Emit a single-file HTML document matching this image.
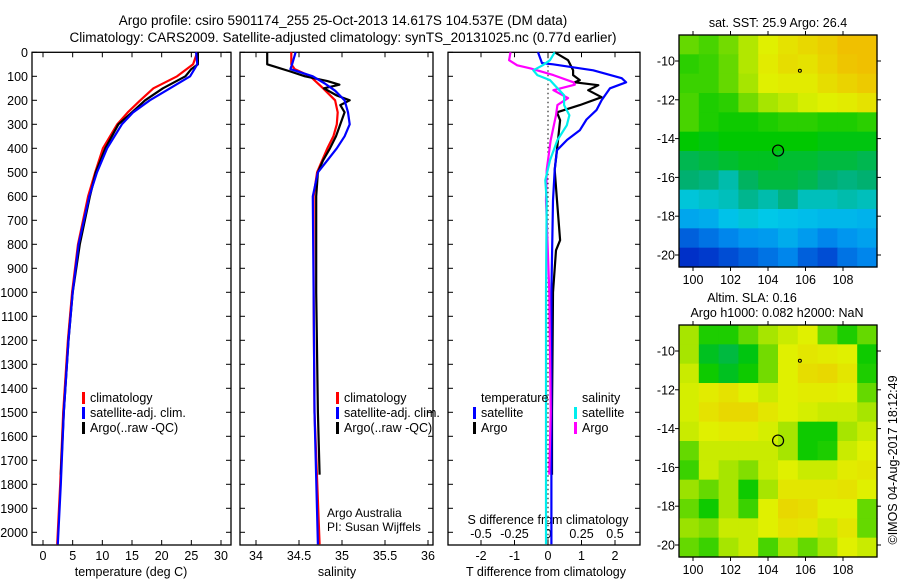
<!DOCTYPE html>
<html><head><meta charset="utf-8"><style>
body{margin:0;background:#fff;}
svg{display:block;font-family:"Liberation Sans",sans-serif;}
text{fill:#000;}
</style></head><body>
<svg id="fig" width="900" height="580" viewBox="0 0 900 580">
<text x="343" y="25" font-size="13.5" text-anchor="middle">Argo profile: csiro 5901174_255 25-Oct-2013 14.617S 104.537E (DM data)</text>
<text x="343" y="42" font-size="13.5" text-anchor="middle">Climatology: CARS2009. Satellite-adjusted climatology: synTS_20131025.nc (0.77d earlier)</text>
<g id="g"></g>
</svg>
<script>
// ---------- data ----------
const depthTicks=[0,100,200,300,400,500,600,700,800,900,1000,1100,1200,1300,1400,1500,1600,1700,1800,1900,2000];
const tTicks=[0,5,10,15,20,25,30];
const sTicks=[34,34.5,35,35.5,36];
const dTTicks=[-2,-1,0,1,2];
const dSTickLabels=["-0.5","-0.25","0","0.25","0.5"];
const dSTicks=[-0.5,-0.25,0,0.25,0.5];

const climDepth=[0,50,100,150,200,250,300,400,500,600,800,1000,1200,1500,1800,2000,2050];
const climTemp=[26.0,25.3,22.6,18.6,16.4,14.3,12.5,10.1,8.8,7.6,5.9,4.9,4.2,3.4,2.9,2.5,2.4];
const satTemp=[25.8,26.0,24.8,21.4,18.0,15.2,13.3,10.8,9.1,7.8,6.0,5.0,4.3,3.5,3.0,2.6,2.5];
const argoDepth=[0,50,70,100,150,200,250,300,400,500,600,800,1000,1200,1500,1760];
const argoTemp=[26.1,26.1,25.0,24.0,20.2,17.2,15.0,12.7,10.5,8.9,7.9,6.2,5.0,4.3,3.5,3.0];

const climSalDepth=[0,50,70,100,150,200,250,300,350,400,450,500,550,600,1000,1500,2050];
const climSal=[34.41,34.41,34.45,34.63,34.78,34.92,34.95,34.94,34.90,34.83,34.77,34.71,34.69,34.67,34.67,34.68,34.74];
const satSalDepth=[0,50,70,100,130,160,200,250,300,350,400,450,500,600,1000,1500,2050];
const satSal=[34.46,34.42,34.40,34.66,34.80,34.92,35.03,35.07,35.09,35.03,34.94,34.83,34.72,34.66,34.67,34.68,34.72];
const argoSalDepth=[0,50,60,80,100,120,135,150,180,200,220,250,300,350,400,450,500,600,1000,1500,1760];
const argoSal=[34.13,34.13,34.22,34.40,34.57,34.83,34.97,34.79,34.94,35.09,34.98,35.03,34.98,34.93,34.86,34.78,34.72,34.70,34.70,34.72,34.74];

const dSatTDepth=[0,45,50,75,108,125,150,200,240,280,325,365,408,490,617,1000,1500,2050];
const dSatT=[-0.3,-0.18,0.15,1.35,2.2,2.33,1.85,1.6,1.45,1.15,0.95,0.57,0.27,0.2,0.15,0.1,0.1,0.1];
const dArgoTDepth=[0,33,75,95,116,125,137,158,187,220,250,283,366,490,617,783,825,1000,1500,1760];
const dArgoT=[0.2,0.6,0.75,0.75,0.95,0.8,1.5,1.2,1.6,0.95,0.27,0.36,0.3,0.2,0.27,0.36,0.24,0.15,0.12,0.12];
const dArgoSDepth=[0,33,54,67,95,125,135,158,191,220,262,366,490,617,1000,1500,1760];
const dArgoS=[-0.28,-0.29,-0.23,-0.13,0.04,0.19,0.2,0.04,0.15,0.07,0.06,0.02,-0.01,-0.015,0.01,0.02,0.01];
const dSatSDepth=[0,33,54,75,95,116,137,179,220,262,304,366,450,533,617,1000,1500,2050];
const dSatS=[0.05,0.015,-0.04,-0.11,-0.08,0.015,0.05,0.12,0.12,0.16,0.14,0.07,0.015,-0.02,-0.01,-0.015,-0.015,-0.015];

const mapLon=[100,102,104,106,108];
const mapLat=[-10,-12,-14,-16,-18,-20];
const sstGrid=[
[0.52,0.50,0.53,0.58,0.62,0.65,0.67,0.69,0.72,0.72],
[0.48,0.49,0.52,0.58,0.63,0.66,0.65,0.68,0.71,0.72],
[0.49,0.49,0.52,0.57,0.62,0.63,0.63,0.66,0.68,0.70],
[0.50,0.47,0.48,0.53,0.57,0.59,0.61,0.62,0.63,0.65],
[0.50,0.47,0.46,0.46,0.47,0.48,0.48,0.47,0.47,0.48],
[0.45,0.44,0.45,0.45,0.45,0.45,0.45,0.44,0.44,0.44],
[0.40,0.41,0.42,0.43,0.43,0.42,0.42,0.41,0.41,0.40],
[0.38,0.37,0.34,0.39,0.41,0.41,0.40,0.38,0.37,0.38],
[0.31,0.32,0.33,0.36,0.34,0.37,0.33,0.33,0.34,0.33],
[0.24,0.25,0.29,0.31,0.30,0.29,0.28,0.27,0.27,0.26],
[0.15,0.17,0.19,0.21,0.22,0.25,0.22,0.19,0.21,0.23],
[0.10,0.11,0.13,0.15,0.17,0.19,0.15,0.13,0.17,0.19]];
const slaGrid=[
[0.57,0.47,0.47,0.52,0.57,0.60,0.62,0.52,0.47,0.52],
[0.57,0.43,0.41,0.44,0.53,0.62,0.64,0.63,0.62,0.46],
[0.60,0.46,0.43,0.46,0.53,0.62,0.66,0.67,0.64,0.47],
[0.61,0.63,0.65,0.62,0.60,0.62,0.63,0.63,0.62,0.52],
[0.61,0.65,0.67,0.67,0.64,0.62,0.61,0.60,0.60,0.57],
[0.60,0.62,0.63,0.63,0.61,0.57,0.46,0.46,0.57,0.60],
[0.52,0.60,0.60,0.60,0.60,0.57,0.46,0.47,0.60,0.62],
[0.49,0.60,0.57,0.54,0.60,0.62,0.60,0.60,0.63,0.64],
[0.56,0.52,0.57,0.46,0.57,0.64,0.64,0.64,0.65,0.62],
[0.52,0.46,0.57,0.49,0.62,0.67,0.66,0.62,0.62,0.52],
[0.56,0.54,0.60,0.60,0.62,0.65,0.64,0.60,0.64,0.52],
[0.52,0.49,0.57,0.60,0.50,0.57,0.52,0.57,0.62,0.60]];
const argoPos=[104.537,-14.617];

// ---------- helpers ----------
const NS="http://www.w3.org/2000/svg";
const G=document.getElementById('g');
function mk(tag,attrs,parent){const e=document.createElementNS(NS,tag);for(const k in attrs)e.setAttribute(k,attrs[k]);(parent||G).appendChild(e);return e;}
const yD=d=>52.3+d*0.24;
function lin(d0,d1,r0,r1){return v=>r0+(v-d0)*(r1-r0)/(d1-d0);}

function frame(x0,x1,y0,y1,name){
  const r=mk('rect',{x:x0,y:y0,width:x1-x0,height:y1-y0,fill:'none',stroke:'#000','stroke-width':1.3});
  
  
}
function depthAxis(x0,x1,labels){
  depthTicks.forEach(d=>{
    const y=yD(d);
    mk('line',{x1:x0,x2:x0+5,y1:y,y2:y,stroke:'#000'});
    mk('line',{x1:x1,x2:x1-5,y1:y,y2:y,stroke:'#000'});
    if(labels){const t=mk('text',{x:x0-4,y:y+4.5,'font-size':12.5,'text-anchor':'end'});t.textContent=d;
      
      }
  });
}
function xTicks(ticks,fx,labels,y0,y1,ly,name){
  ticks.forEach((v,i)=>{
    const x=fx(v);
    mk('line',{x1:x,x2:x,y1:y1,y2:y1-5,stroke:'#000'});
    mk('line',{x1:x,x2:x,y1:y0,y2:y0+5,stroke:'#000'});
    if(ly){const t=mk('text',{x:x,y:ly,'font-size':12.5,'text-anchor':'middle'});t.textContent=labels?labels[i]:v;
      
      }
  });
}
function line(depths,vals,fx,color,name){
  const pts=depths.map((d,i)=>fx(vals[i]).toFixed(1)+','+yD(d).toFixed(1)).join(' ');
  const p=mk('polyline',{points:pts,fill:'none',stroke:color,'stroke-width':2.2,'stroke-linejoin':'round'});
  
  
}
function txt(x,y,s,size,name,anchor){const t=mk('text',{x:x,y:y,'font-size':size||12.5,'text-anchor':anchor||'start'});t.textContent=s;
  
  return t;}
function legBar(x,y,color,name){const r=mk('rect',{x:x,y:y-10,width:3,height:12,fill:color});
  
  }

const Y0=52.3,Y1=545;
// ---------- panel 1 temperature ----------
const fT=lin(0,30,43,221);
frame(32,231,Y0,Y1,'temperature-panel-frame');
depthAxis(32,231,true);
xTicks(tTicks,fT,null,Y0,Y1,560,'temperature-tick-label');
txt(131,576,'temperature (deg C)',12.5,'temperature-axis-title','middle');
line(climDepth,climTemp,fT,'#ff0000','temp-climatology-line');
line(argoDepth,argoTemp,fT,'#000000','temp-argo-line');
line(climDepth,satTemp,fT,'#0000ff','temp-satellite-line');
legBar(82,402,'#ff0000','legend-climatology-swatch');txt(90,402,'climatology',12.5,'legend-climatology');
legBar(82,417,'#0000ff','legend-satellite-swatch');txt(90,417,'satellite-adj. clim.',12.5,'legend-satellite');
legBar(82,432,'#000000','legend-argo-swatch');txt(90,432,'Argo(..raw -QC)',12.5,'legend-argo');

// ---------- panel 2 salinity ----------
const fS=lin(34,36,256,428);
frame(240,433,Y0,Y1,'salinity-panel-frame');
depthAxis(240,433,false);
xTicks(sTicks,fS,null,Y0,Y1,560,'salinity-tick-label');
txt(337,576,'salinity',12.5,'salinity-axis-title','middle');
line(climSalDepth,climSal,fS,'#ff0000','sal-climatology-line');
line(argoSalDepth,argoSal,fS,'#000000','sal-argo-line');
line(satSalDepth,satSal,fS,'#0000ff','sal-satellite-line');
legBar(336,402,'#ff0000','legend2-climatology-swatch');txt(344,402,'climatology',12.5,'legend2-climatology');
legBar(336,417,'#0000ff','legend2-satellite-swatch');txt(344,417,'satellite-adj. clim.',12.5,'legend2-satellite');
legBar(336,432,'#000000','legend2-argo-swatch');txt(344,432,'Argo(..raw -QC)',12.5,'legend2-argo');
txt(327,517,'Argo Australia',12,'argo-australia-credit');
txt(327,531,'PI: Susan Wijffels',12,'pi-credit');

// ---------- panel 3 differences ----------
const fdT=lin(0,1,548,581.5);
const fdS=v=>fdT(v*4);
frame(448,640,Y0,Y1,'difference-panel-frame');
depthAxis(448,640,false);
xTicks(dTTicks,fdT,null,Y0,Y1,560,'t-diff-tick-label');
dSTicks.forEach((v,i)=>{const t=txt(fdS(v),538,dSTickLabels[i],12.5,'s-diff-tick-label','middle');});
txt(548,524,'S difference from climatology',12.5,'s-diff-axis-title','middle');
txt(546,576,'T difference from climatology',12.5,'t-diff-axis-title','middle');
const zl=mk('line',{x1:fdT(0),x2:fdT(0),y1:Y0,y2:Y1,stroke:'#000','stroke-dasharray':'1.5,3'});


line(dArgoTDepth,dArgoT,fdT,'#000000','dT-argo-line');
line(dSatTDepth,dSatT,fdT,'#0000ff','dT-satellite-line');
line(dArgoSDepth,dArgoS,fdS,'#ff00ff','dS-argo-line');
line(dSatSDepth,dSatS,fdS,'#00eeee','dS-satellite-line');
txt(481,402,'temperature',12.5,'legend3-temperature-header');
txt(582,402,'salinity',12.5,'legend3-salinity-header');
legBar(473,417,'#0000ff','legend3-t-satellite-swatch');txt(481,417,'satellite',12.5,'legend3-t-satellite');
legBar(473,432,'#000000','legend3-t-argo-swatch');txt(481,432,'Argo',12.5,'legend3-t-argo');
legBar(574,417,'#00eeee','legend3-s-satellite-swatch');txt(582,417,'satellite',12.5,'legend3-s-satellite');
legBar(574,432,'#ff00ff','legend3-s-argo-swatch');txt(582,432,'Argo',12.5,'legend3-s-argo');

// ---------- maps ----------
const stops=[[0.10,[0,48,200]],[0.20,[0,144,240]],[0.30,[0,200,232]],[0.38,[0,176,112]],[0.45,[0,200,0]],[0.55,[144,224,0]],[0.62,[224,240,0]],[0.72,[240,192,0]]];
function cmap(v){
  if(v<=stops[0][0])return 'rgb('+stops[0][1]+')';
  for(let i=1;i<stops.length;i++){if(v<=stops[i][0]){const a=stops[i-1],b=stops[i],f=(v-a[0])/(b[0]-a[0]);
    return 'rgb('+a[1].map((c,k)=>Math.round(c+f*(b[1][k]-c))).join(',')+')';}}
  return 'rgb('+stops[stops.length-1][1]+')';
}
const fLon=lin(100,108,693,843);
const MX0=679,MX1=877;
function drawMap(grid,top,name){
  const bottom=top+232;
  const fLat=lin(-10,-20,top+26,top+220);
  const rows=grid.length,cols=grid[0].length,cw=(MX1-MX0)/cols,ch=(bottom-top)/rows;
  grid.forEach((row,r)=>row.forEach((v,c)=>{
    const cell=mk('rect',{x:MX0+c*cw,y:top+r*ch,width:cw+0.6,height:ch+0.6,fill:cmap(v)});
    
    
  }));
  frame(MX0,MX1,top,bottom,name+'-frame');
  mapLon.forEach(l=>{const x=fLon(l);mk('line',{x1:x,x2:x,y1:top,y2:top-4,stroke:'#000'});mk('line',{x1:x,x2:x,y1:bottom,y2:bottom+4,stroke:'#000'});
    txt(x,bottom+17,String(l),12.5,name+'-lon-label','middle');});
  mapLat.forEach(l=>{const y=fLat(l);mk('line',{x1:MX0,x2:MX0-4,y1:y,y2:y,stroke:'#000'});mk('line',{x1:MX1,x2:MX1+4,y1:y,y2:y,stroke:'#000'});
    txt(MX0-4,y+4.5,String(l),12.5,name+'-lat-label','end');});
  const c=mk('circle',{cx:fLon(argoPos[0]),cy:fLat(argoPos[1]),r:5.5,fill:'none',stroke:'#000','stroke-width':1.2});
  
  
  mk('circle',{cx:fLon(105.7),cy:fLat(-10.5),r:1.5,fill:'none',stroke:'#000'});
}
drawMap(sstGrid,35,'sst-map');
txt(778,27,'sat. SST: 25.9 Argo: 26.4',12.5,'sst-map-title','middle');
drawMap(slaGrid,325,'sla-map');
txt(752,302,'Altim. SLA: 0.16',12.5,'sla-map-title','middle');
txt(777,317,'Argo h1000: 0.082 h2000: NaN',12.5,'sla-map-subtitle','middle');
const cp=txt(0,0,'©IMOS 04-Aug-2017 18:12:49',12.5,'copyright-label','middle');
cp.setAttribute('transform','translate(897,460) rotate(-90)');
</script>
</body></html>
